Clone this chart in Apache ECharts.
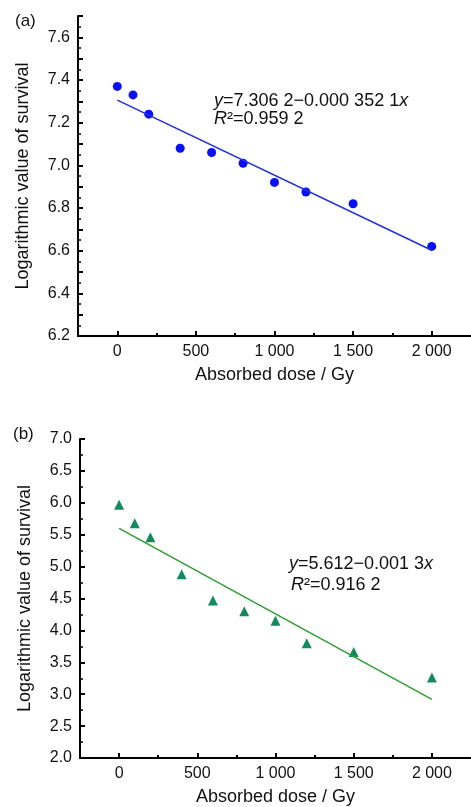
<!DOCTYPE html>
<html>
<head>
<meta charset="utf-8">
<style>
  html, body { margin: 0; padding: 0; background: #fff; }
  #main { width: 471px; height: 807px; }
</style>
<script src="https://cdn.jsdelivr.net/npm/echarts@6/dist/echarts.min.js"></script>
</head>
<body>
<div id="main"></div>
<script>
// absorbed dose / Gy
var doses = [0, 100, 200, 400, 600, 800, 1000, 1200, 1500, 2000];
// (a) log survival + fit line ends
var survivalA = [7.37, 7.33, 7.24, 7.08, 7.06, 7.01, 6.92, 6.875, 6.82, 6.62];
var fitA = [7.306, 6.602];
// (b) log survival + fit line ends
var survivalB = [5.97, 5.68, 5.46, 4.88, 4.47, 4.30, 4.15, 3.80, 3.66, 3.26];
var fitB = [5.60, 2.92];
var fitX = [0, 2000];
// x ticks
var xMajor = [0, 500, 1000, 1500, 2000];
var xMinor = [250, 750, 1250, 1750];

var font = 'Liberation Sans, Arial, sans-serif';
var ink = '#111';

function pairs(xs, ys) {
  return xs.map(function (x, i) { return [x, ys[i]]; });
}
function fmtX(v) {
  return v >= 1000 ? String(v).replace(/(\d)(\d{3})$/, '$1 $2') : String(v);
}

function mainX(grid) {
  return {
    type: 'value', gridIndex: grid, min: -250, max: 2250, position: 'bottom',
    name: 'Absorbed dose / Gy', nameLocation: 'middle', nameGap: 30,
    nameTextStyle: { fontSize: 18, color: ink, fontFamily: font },
    axisLine: { onZero: false, lineStyle: { color: '#000', width: 2 } },
    axisTick: { show: true, inside: true, length: 5, customValues: xMajor, lineStyle: { color: '#000', width: 2 } },
    axisLabel: { customValues: xMajor, formatter: fmtX, fontSize: 16, color: ink, fontFamily: font, margin: 8 },
    splitLine: { show: false }
  };
}
function minorX(grid) {
  return {
    type: 'value', gridIndex: grid, min: -250, max: 2250, position: 'bottom',
    axisLine: { show: false, onZero: false },
    axisTick: { show: true, inside: true, length: 3, customValues: xMinor, lineStyle: { color: '#000', width: 2 } },
    axisLabel: { show: false },
    splitLine: { show: false }
  };
}
function baseY(grid) {
  return {
    type: 'value', gridIndex: grid, position: 'left',
    name: 'Logarithmic value of survival', nameLocation: 'middle', nameGap: 46,
    nameTextStyle: { fontSize: 18, color: ink, fontFamily: font },
    axisLine: { show: true, onZero: false, lineStyle: { color: '#000', width: 2 } },
    axisTick: { show: true, inside: true, length: 5, lineStyle: { color: '#000', width: 2 } },
    minorTick: { show: true, splitNumber: 2, length: 3, lineStyle: { color: '#000', width: 1.5 } },
    axisLabel: { fontSize: 16, color: ink, fontFamily: font, margin: 8 },
    splitLine: { show: false }
  };
}

var yA = baseY(0);
yA.min = 6.2; yA.max = 7.7; yA.interval = 0.1;
yA.axisLabel.formatter = function (v) {
  var k = Math.round(v * 10);
  return k % 2 === 0 ? (k / 10).toFixed(1) : '';
};
var yB = baseY(1);
yB.min = 2; yB.max = 7; yB.interval = 0.5;
yB.axisLabel.formatter = function (v) { return v.toFixed(1); };

var rich = { i: { fontStyle: 'italic', fontSize: 18, fontFamily: font, fill: ink } };
function eq(left, top, text) {
  return { type: 'text', left: left, top: top,
    style: { text: text, rich: rich, fontSize: 18, fontFamily: font, fill: ink } };
}

var chart = echarts.init(document.getElementById('main'));
chart.setOption({
  animation: false,
  backgroundColor: '#fff',
  title: [
    { text: '(a)', left: 10, top: 8, textStyle: { fontSize: 17, fontWeight: 'normal', color: ink, fontFamily: font } },
    { text: '(b)', left: 8, top: 421, textStyle: { fontSize: 17, fontWeight: 'normal', color: ink, fontFamily: font } }
  ],
  grid: [
    { left: 78, right: 0, top: 16, height: 320 },
    { left: 80, right: 0, top: 439, height: 321 }
  ],
  xAxis: [mainX(0), minorX(0), mainX(1), minorX(1)],
  yAxis: [yA, yB],
  graphic: [
    eq(214, 92, '{i|y}=7.306 2\u22120.000 352 1{i|x}'),
    eq(214, 110, '{i|R}\u00b2=0.959 2'),
    eq(289, 555, '{i|y}=5.612\u22120.001 3{i|x}'),
    eq(291, 576, '{i|R}\u00b2=0.916 2')
  ],
  series: [
    {
      type: 'line', xAxisIndex: 0, yAxisIndex: 0, data: pairs(fitX, fitA),
      symbol: 'none', lineStyle: { color: '#1f2fe0', width: 1.5 }
    },
    {
      type: 'scatter', xAxisIndex: 0, yAxisIndex: 0, data: pairs(doses, survivalA),
      symbol: 'circle', symbolSize: 9, itemStyle: { color: '#0a10f5', opacity: 1 }
    },
    {
      type: 'line', xAxisIndex: 2, yAxisIndex: 1, data: pairs(fitX, fitB),
      symbol: 'none', lineStyle: { color: '#2f9e2f', width: 1.5 }
    },
    {
      type: 'scatter', xAxisIndex: 2, yAxisIndex: 1, data: pairs(doses, survivalB),
      symbol: 'triangle', symbolSize: 10, itemStyle: { color: '#138a5e', opacity: 1 }
    }
  ]
});
</script>
</body>
</html>
